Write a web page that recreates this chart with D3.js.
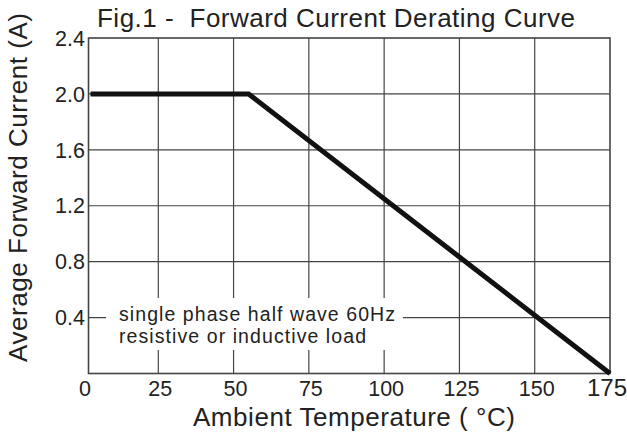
<!DOCTYPE html>
<html lang="en">
<head>
<meta charset="utf-8">
<title>Forward Current Derating Curve</title>
<script src="https://cdn.jsdelivr.net/npm/d3@7"></script>
<style>
  body { margin: 0; background: #fff; }
  text { font-family: "Liberation Sans", Arial, sans-serif; fill: #222; }
</style>
</head>
<body>
<script>
// data
var tempC = [2.5, 55, 175];
var currentA = [2.0, 2.0, 0];
var xTicks = [0, 25, 50, 75, 100, 125, 150, 175];
var yTicks = [0.4, 0.8, 1.2, 1.6, 2.0, 2.4];
var noteLines = ["single phase half wave 60Hz", "resistive or inductive load"];

var W = 627, H = 437;
var svg = d3.select("body").append("svg")
    .attr("width", W).attr("height", H);

// scales (frame starts a little to the right of x = 0)
var x = d3.scaleLinear().domain([0, 175]).range([83, 610]);
var y = d3.scaleLinear().domain([0, 2.4]).range([373.5, 38]);
var pL = 88.5, pR = x(175), pT = y(2.4), pB = y(0);

var grid = svg.append("g")
    .attr("stroke", "#444").attr("stroke-width", 1.2).attr("fill", "none");

// vertical grid
grid.selectAll("line.v")
  .data(xTicks.slice(1, -1))
  .enter().append("line")
    .attr("x1", function(d) { return x(d); })
    .attr("x2", function(d) { return x(d); })
    .attr("y1", pT).attr("y2", pB);

// horizontal grid
grid.selectAll("line.h")
  .data(yTicks.slice(0, -1))
  .enter().append("line")
    .attr("x1", pL).attr("x2", pR)
    .attr("y1", function(d) { return y(d); })
    .attr("y2", function(d) { return y(d); });

// frame
svg.append("rect")
    .attr("x", pL).attr("y", pT)
    .attr("width", pR - pL).attr("height", pB - pT)
    .attr("fill", "none").attr("stroke", "#444").attr("stroke-width", 1.6);

// white box behind the note
svg.append("rect")
    .attr("x", 106).attr("y", 298)
    .attr("width", 297).attr("height", 52)
    .attr("fill", "#fff");

// derating curve
var line = d3.line()
    .x(function(d) { return x(d[0]); })
    .y(function(d) { return y(d[1]); });

svg.append("path")
    .datum(d3.zip(tempC, currentA))
    .attr("d", line)
    .attr("fill", "none")
    .attr("stroke", "#111")
    .attr("stroke-width", 5)
    .attr("stroke-linejoin", "miter");

// note text
svg.selectAll("text.note")
  .data(noteLines)
  .enter().append("text")
    .attr("class", "note")
    .attr("x", 119)
    .attr("y", function(d, i) { return 321 + i * 22; })
    .attr("font-size", "19.5px")
    .attr("textLength", function(d, i) { return i == 0 ? 276 : 247; })
    .attr("lengthAdjust", "spacing")
    .text(function(d) { return d; });

// x tick labels
svg.selectAll("text.xt")
  .data(xTicks)
  .enter().append("text")
    .attr("x", function(d) { return x(d) + (d == 175 ? -3 : 2); })
    .attr("y", 396)
    .attr("text-anchor", "middle")
    .attr("font-size", function(d) { return d == 175 ? "24px" : "21.5px"; })
    .text(function(d) { return d; });

// y tick labels
svg.selectAll("text.yt")
  .data(yTicks)
  .enter().append("text")
    .attr("x", 85)
    .attr("y", function(d) { return y(d); })
    .attr("dy", "0.36em")
    .attr("text-anchor", "end")
    .attr("font-size", "21.5px")
    .text(function(d) { return d.toFixed(1); });

// title
svg.append("text")
    .attr("x", 97).attr("y", 27)
    .attr("font-size", "26px")
    .attr("textLength", 478).attr("lengthAdjust", "spacing")
    .style("white-space", "pre")
    .text("Fig.1 -  Forward Current Derating Curve");

// axis titles
svg.append("text")
    .attr("x", 193).attr("y", 426)
    .attr("font-size", "26px")
    .attr("textLength", 322).attr("lengthAdjust", "spacing")
    .style("white-space", "pre")
    .text("Ambient Temperature ( \u00B0C)");

svg.append("text")
    .attr("transform", "translate(27,362) rotate(-90)")
    .attr("font-size", "26px")
    .attr("textLength", 349).attr("lengthAdjust", "spacing")
    .text("Average Forward Current (A)");
</script>
</body>
</html>
